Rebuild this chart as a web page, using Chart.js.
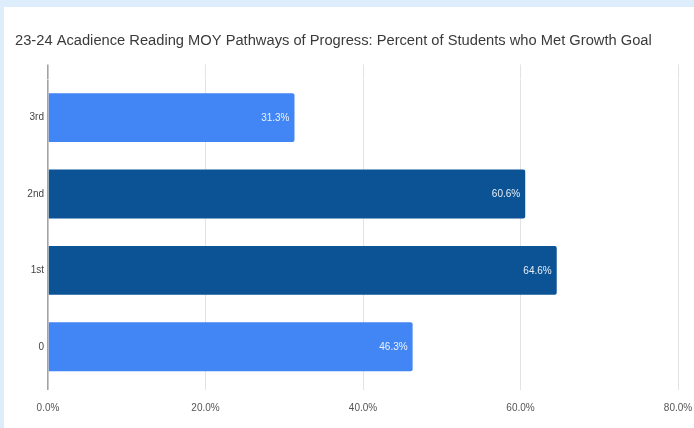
<!DOCTYPE html>
<html><head><meta charset="utf-8">
<script src="https://cdn.jsdelivr.net/npm/chart.js@4.4.1/dist/chart.umd.min.js"></script>
<style>
html,body{margin:0;padding:0;background:#deedfc;width:694px;height:428px;overflow:hidden}
#wrap{position:absolute;left:4px;top:7px;width:690px;height:421px;background:#fff}
canvas{display:block}
</style></head><body>
<div id="wrap"><canvas id="c" width="690" height="421"></canvas></div>
<script>
const titleText = '23-24 Acadience Reading MOY Pathways of Progress: Percent of Students who Met Growth Goal';
const categories = ['3rd', '2nd', '1st', '0'];
const values = [31.3, 60.6, 64.6, 46.3];
const barColors = ['#4285F4', '#0B5394', '#0B5394', '#4285F4'];
const xMin = 0, xMax = 80, xStep = 20;

const FONT = '"Liberation Sans", Arial, sans-serif';

const gridColor = ctx => (ctx.tick && ctx.tick.value === 0) ? '#a3a3a3' : '#e3e3e3';
const gridWidth = ctx => (ctx.tick && ctx.tick.value === 0) ? 1.6 : 1;

const valueLabels = {
  id: 'valueLabels',
  afterDatasetsDraw(chart) {
    const ctx = chart.ctx;
    const meta = chart.getDatasetMeta(0);
    ctx.save();
    ctx.font = '10px ' + FONT;
    ctx.fillStyle = 'rgba(255,255,255,0.9)';
    ctx.textAlign = 'right';
    ctx.textBaseline = 'middle';
    meta.data.forEach((bar, i) => {
      ctx.fillText(values[i].toFixed(1) + '%', bar.x - 5, bar.y + 0.5);
    });
    ctx.restore();
  }
};

new Chart(document.getElementById('c'), {
  type: 'bar',
  data: {
    labels: categories,
    datasets: [{
      data: values,
      backgroundColor: barColors,
      borderRadius: 2,
      borderSkipped: 'start',
      categoryPercentage: 1,
      barPercentage: 0.64
    }]
  },
  options: {
    indexAxis: 'y',
    responsive: false,
    animation: false,
    layout: { padding: { left: 11, right: 16, top: 0, bottom: 14 } },
    plugins: {
      legend: { display: false },
      tooltip: { enabled: false },
      title: {
        display: true,
        text: titleText,
        align: 'start',
        color: '#3a3a3a',
        font: { family: FONT, size: 14.7, weight: 'normal' },
        padding: { top: 25.2, bottom: 14.6 }
      }
    },
    scales: {
      x: {
        type: 'linear',
        position: 'bottom',
        min: xMin, max: xMax,
        ticks: {
          stepSize: xStep,
          padding: 12,
          color: '#555',
          font: { family: FONT, size: 10 },
          callback: v => v.toFixed(1) + '%'
        },
        grid: { color: gridColor, lineWidth: gridWidth, tickLength: 5 },
        border: { display: false },
        afterFit: s => { s.height = 29; s.paddingRight = 0; s.paddingLeft = 0; }
      },
      x2: {
        type: 'linear',
        position: 'top',
        min: xMin, max: xMax,
        ticks: { stepSize: xStep, display: false },
        grid: { color: gridColor, lineWidth: gridWidth, tickLength: 15, drawOnChartArea: false },
        border: { display: false },
        afterFit: s => { s.height = 15; s.paddingRight = 0; s.paddingLeft = 0; }
      },
      y: {
        ticks: { color: '#444', padding: 4, font: { family: FONT, size: 10 } },
        grid: { display: false, drawTicks: false },
        border: { display: false },
        afterFit: s => { s.width = 33; s.paddingTop = 0; s.paddingBottom = 0; }
      }
    }
  },
  plugins: [valueLabels]
});
</script></body></html>
